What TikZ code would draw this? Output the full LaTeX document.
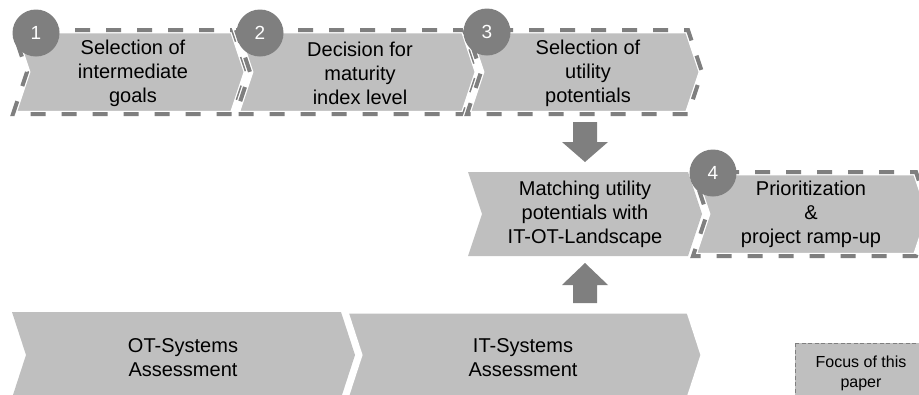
\documentclass[tikz,border=0pt]{standalone}
\usepackage{fontspec}
\setmainfont{Liberation Sans}
\definecolor{fillg}{HTML}{BFBFBF}
\definecolor{darkg}{HTML}{7F7F7F}
\newcommand\chevshape[6]{\path[#1] (#2,#5) -- (#3,#5) -- ({#3+#4},{(#5+#6)/2}) -- (#3,#6) -- (#2,#6) -- ({#2+#4},{(#5+#6)/2}) -- cycle;}
\newcommand\dashchev[5]{%
  \chevshape{fill=fillg}{#1}{#2}{#3}{#4}{#5}%
  \chevshape{draw=white,line width=6.5pt,line join=miter}{#1}{#2}{#3}{#4}{#5}%
  \chevshape{draw=darkg,line width=4pt,dash pattern=on 15pt off 16pt,line join=miter}{#1}{#2}{#3}{#4}{#5}}
\newcommand\plainchev[5]{%
  \chevshape{fill=fillg}{#1}{#2}{#3}{#4}{#5}}
\begin{document}
\begin{tikzpicture}[x=1pt,y=-1pt]
\tikzset{
  txt/.style={align=center,font=\fontsize{20}{24}\selectfont,text=black,inner sep=0pt},
  smalltxt/.style={align=center,font=\fontsize{16}{20}\selectfont,text=black,inner sep=0pt},
  num/.style={circle,fill=darkg,minimum size=47pt,inner sep=0pt,text=white,font=\fontsize{19}{20}\selectfont},
  blockarrow/.style={fill=darkg},
  focusbox/.style={fill=fillg,draw=darkg,line width=1pt,dash pattern=on 4pt off 2.5pt},
}
\useasboundingbox (0,0) rectangle (919,394);
\begin{scope}
\clip (0,0) rectangle (919,394);
% top row
\dashchev{13}{233}{14}{30}{114}
\dashchev{236}{464}{14}{30}{114}
\dashchev{467}{688}{14}{30}{114}
% middle row
\plainchev{468}{688}{14}{172}{256}
\dashchev{693}{916}{14}{172}{256}
% bottom row
\plainchev{12}{341}{14}{312}{398}
\chevshape{fill=fillg,draw=white,line width=3pt}{347}{688}{14}{312}{398}
% focus box
\path[focusbox] (795,343) rectangle (930,405);
\end{scope}

\node[txt] (t1) at (133,73) {Selection of\\intermediate\\goals};
\node[txt] (t2) at (360,73) {Decision for\\maturity\\index level};
\node[txt] (t3) at (588,73) {Selection of\\utility\\potentials};
\node[txt] (tm) at (585,214) {Matching utility\\potentials with\\IT-OT-Landscape};
\node[txt] (t4) at (811,214) {Prioritization\\\&\\project ramp-up};
\node[txt] (tot) at (183,358) {OT-Systems\\Assessment};
\node[txt] (tit) at (523,358) {IT-Systems\\Assessment};
\node[smalltxt] (tf) at (861,373) {Focus of this\\paper};

\node[num] (n1) at (36,33) {1};
\node[num] (n2) at (260,33) {2};
\node[num] (n3) at (487,32) {3};
\node[num] (n4) at (713,173) {4};

% block arrows
\path[blockarrow] (573,122) -- (597,122) -- (597,142) -- (608,142) -- (585,162) -- (562,142) -- (573,142) -- cycle;
\path[blockarrow] (573,303) -- (597,303) -- (597,285) -- (608,285) -- (585,263) -- (562,285) -- (573,285) -- cycle;
\end{tikzpicture}
\end{document}
